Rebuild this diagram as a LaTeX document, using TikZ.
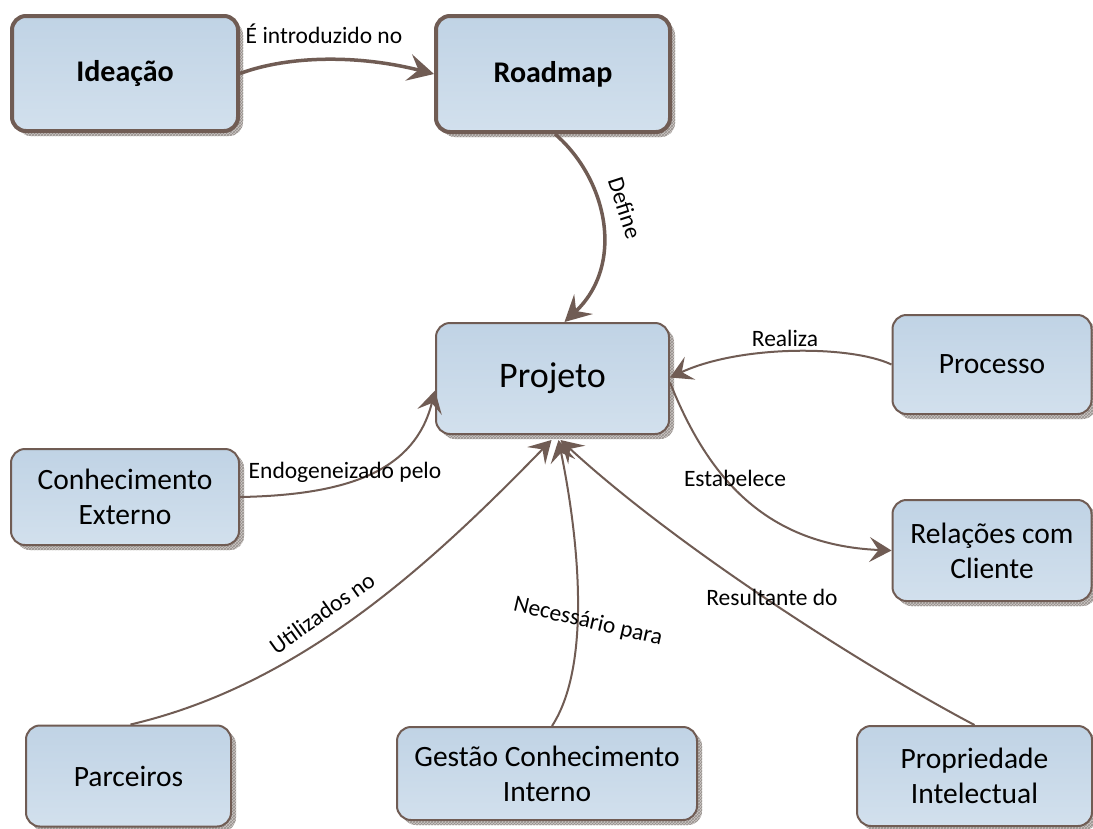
\documentclass[tikz,border=0pt]{standalone}
\usepackage{fontspec}
\setmainfont{Carlito}
\usetikzlibrary{arrows.meta,calc,patterns}
\definecolor{edgebrown}{RGB}{112,92,84}
\definecolor{boxtop}{RGB}{192,211,229}
\definecolor{boxbot}{RGB}{210,224,237}
\definecolor{shadowlight}{RGB}{205,200,198}
\definecolor{shadowdark}{RGB}{150,144,140}
\tikzset{
  concept/.style={draw=edgebrown, line width=2pt, rounded corners=14pt,
    top color=boxtop, bottom color=boxbot, align=center,
    font=\fontsize{29.5}{35}\selectfont, inner sep=0pt,
    preaction={fill=shadowlight, transform canvas={xshift=5pt,yshift=-5pt}},
    preaction={pattern=crosshatch, pattern color=shadowdark,
      transform canvas={xshift=5pt,yshift=-5pt}}},
  heavy/.style={concept, line width=4pt, font=\bfseries\fontsize{30}{35}\selectfont},
  link/.style={draw=edgebrown, line width=2pt,
    -{Stealth[length=22pt,width=25pt,inset=9pt]}},
  boldlink/.style={draw=edgebrown, line width=3.5pt,
    -{Stealth[length=26pt,width=27pt,inset=10pt]}},
  lbl/.style={font=\fontsize{23.5}{27}\selectfont, inner sep=1pt}
}
\begin{document}
\begin{tikzpicture}[x=1pt,y=-1pt]
\useasboundingbox[fill=white] (0,0) rectangle (1093,828);

% concept boxes
\node[heavy, minimum width=226pt, minimum height=115pt] (ideacao) at (125,73.5) {Ideação};
\node[heavy, minimum width=234pt, minimum height=116pt] (roadmap) at (553,74) {Roadmap};
\node[concept, minimum width=233pt, minimum height=111pt, font=\fontsize{36}{40}\selectfont] (projeto) at (552.5,378.5) {Projeto};
\node[concept, minimum width=199pt, minimum height=99pt] (processo) at (992,364.5) {Processo};
\node[concept, minimum width=228pt, minimum height=96pt] (conhec) at (125,497) {Conhecimento\\Externo};
\node[concept, minimum width=199pt, minimum height=101pt] (relacoes) at (992,550.5) {Relações com\\Cliente};
\node[concept, minimum width=205pt, minimum height=101pt] (parceiros) at (128.5,776) {Parceiros};
\node[concept, minimum width=300pt, minimum height=93pt] (gestao) at (547,773.5) {Gestão Conhecimento\\Interno};
\node[concept, minimum width=235pt, minimum height=100pt] (propriedade) at (974.5,776) {Propriedade\\Intelectual};

% connectors
\draw[boldlink] (ideacao.east) .. controls (290,55) and (360,55) .. (roadmap.west);
\node[lbl] (l1) at (324,34) {É introduzido no};

\draw[boldlink] ([xshift=2pt]roadmap.south) .. controls (608,180) and (625,265) .. ([xshift=12pt]projeto.north);
\node[lbl, rotate=-72] (l2) at (625,208) {Define};

\draw[link] (processo.west) .. controls (850,345) and (740,345) .. ([yshift=1pt]projeto.east);
\node[lbl] (l3) at (785,338) {Realiza};

\draw[link] ([yshift=-4pt]projeto.east) .. controls (705,470) and (760,545) .. (relacoes.west);
\node[lbl] (l4) at (735,478) {Estabelece};

\draw[link] (conhec.east) .. controls (350,495) and (415,470) .. ([yshift=-12pt]projeto.west);
\node[lbl] (l5) at (345,472) {Endogeneizado pelo};

\draw[link] ([xshift=2pt]parceiros.north) .. controls (300,685) and (430,565) .. ([xshift=-1pt,yshift=-5pt]projeto.south);
\node[lbl, rotate=35.5] (l6) at (322,613) {Utilizados no};

\draw[link] ([xshift=5pt]gestao.north) .. controls (595,660) and (575,520) .. ([xshift=6pt,yshift=-5pt]projeto.south);
\node[lbl, rotate=-13] (l7) at (588,622) {Necessário para};

\draw[link] (propriedade.north) .. controls (870,670) and (680,550) .. ([xshift=8pt,yshift=-5pt]projeto.south);
\node[lbl] (l8) at (772,597) {Resultante do};
\end{tikzpicture}
\end{document}
